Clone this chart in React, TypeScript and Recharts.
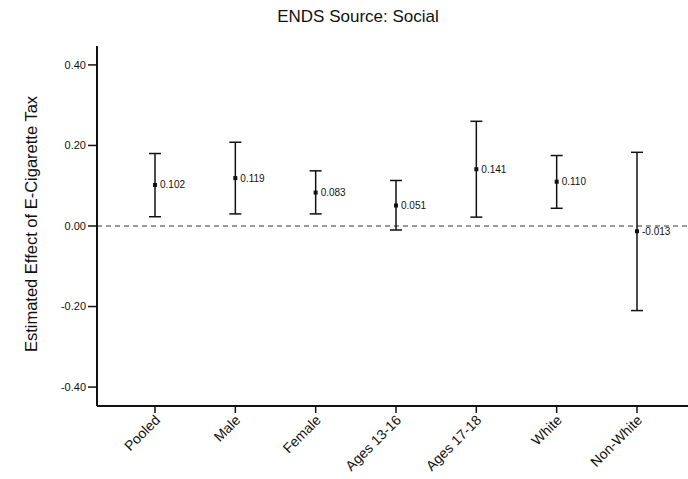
import React from 'react'
import { ComposedChart, Scatter, ErrorBar, XAxis, YAxis, ReferenceLine } from 'recharts'

const groups = ['Pooled', 'Male', 'Female', 'Ages 13-16', 'Ages 17-18', 'White', 'Non-White']
const estimates = [0.102, 0.119, 0.083, 0.051, 0.141, 0.11, -0.013]
const lowers = [0.023, 0.03, 0.03, -0.01, 0.022, 0.044, -0.21]
const uppers = [0.18, 0.208, 0.137, 0.113, 0.26, 0.175, 0.183]
const yTicks = [-0.4, -0.2, 0, 0.2, 0.4]

const rows = groups.map((g, i) => ({
  group: g,
  est: estimates[i],
  err: [estimates[i] - lowers[i], uppers[i] - estimates[i]],
}))

const FONT = 'Liberation Sans, Arial, Helvetica, sans-serif'
const INK = '#111'

const PointMark = (props: any) => {
  const { cx, cy, payload } = props
  return (
    <g>
      <rect x={cx - 2} y={cy - 2} width={4} height={4} fill={INK} />
      <text x={cx + 5} y={cy + 3.5} fontSize={10} fill={INK} fontFamily={FONT}>
        {payload.est.toFixed(3)}
      </text>
    </g>
  )
}

const XTick = ({ x, y, payload }: any) => (
  <text
    x={x + 6}
    y={y + 6}
    transform={`rotate(-45 ${x + 6} ${y + 6})`}
    textAnchor="end"
    fontSize={14}
    fill={INK}
    fontFamily={FONT}
  >
    {payload.value}
  </text>
)

export default function App() {
  return (
    <div style={{ position: 'absolute', left: 0, top: 0, width: 688, height: 479, overflow: 'hidden', background: '#fff' }}>
      <div style={{ position: 'absolute', left: 0, top: 7, width: 716, textAlign: 'center', fontFamily: FONT, fontSize: 17, color: INK }}>
        ENDS Source: Social
      </div>
      <div
        style={{
          position: 'absolute', left: 31, top: 224, fontFamily: FONT, fontSize: 16.5, color: INK,
          transform: 'translate(-50%, -50%) rotate(-90deg)', whiteSpace: 'nowrap',
        }}
      >
        Estimated Effect of E-Cigarette Tax
      </div>
      <ComposedChart width={700} height={479} data={rows} margin={{ top: 46, right: 5, bottom: 0, left: 0 }} style={{ position: 'absolute', left: 0, top: 0 }}>
        <XAxis
          dataKey="group"
          type="category"
          padding={{ left: 58, right: 58 }}
          height={73}
          tick={<XTick />}
          tickSize={7}
          axisLine={{ stroke: INK, strokeWidth: 2 }}
          tickLine={{ stroke: INK, strokeWidth: 1.5 }}
          interval={0}
        />
        <XAxis xAxisId="top" orientation="top" dataKey="group" height={0} tick={false} tickLine={false} axisLine={{ stroke: INK, strokeWidth: 1.5 }} />
        <YAxis
          type="number"
          domain={[-0.447, 0.447]}
          ticks={yTicks}
          allowDataOverflow
          width={97}
          tickFormatter={(v: number) => v.toFixed(2)}
          tick={{ fontSize: 11, fill: INK, fontFamily: FONT }}
          tickSize={9}
          tickMargin={2}
          axisLine={{ stroke: INK, strokeWidth: 2 }}
          tickLine={{ stroke: INK, strokeWidth: 1.5 }}
        />
        <ReferenceLine y={0} stroke="#333" strokeDasharray="5 4" strokeWidth={1} />
        <Scatter dataKey="est" shape={<PointMark />} isAnimationActive={false}>
          <ErrorBar dataKey="err" direction="y" width={6} stroke={INK} strokeWidth={1.5} isAnimationActive={false} />
        </Scatter>
      </ComposedChart>
    </div>
  )
}
